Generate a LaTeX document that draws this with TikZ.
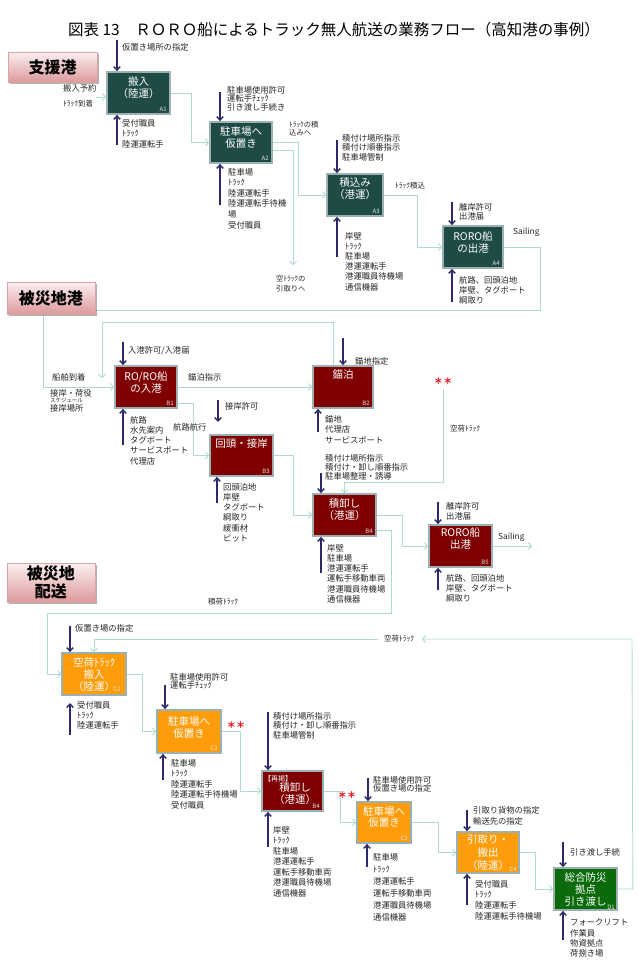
\documentclass[tikz,border=0pt]{standalone}
\usepackage{fontspec}
\setmainfont{Noto Sans CJK JP}
\usetikzlibrary{arrows.meta,calc,shadows}
\definecolor{tealbox}{HTML}{1F4B46}
\definecolor{redbox}{HTML}{7E0000}
\definecolor{orangebox}{HTML}{FF9C0A}
\definecolor{greenbox}{HTML}{0B6A0B}
\definecolor{boxrim}{HTML}{9DB0B2}
\definecolor{flowc}{HTML}{ADDAD5}
\definecolor{ctrlc}{HTML}{2C2A6A}
\definecolor{pinktop}{HTML}{FCEFF0}
\definecolor{pinkbot}{HTML}{DC9A9C}
\definecolor{pinkrim}{HTML}{D8A4A6}
\definecolor{starred}{HTML}{E8101A}
\pgfdeclarelayer{paper}
\pgfdeclarelayer{lines}
\pgfsetlayers{paper,lines,main}
\tikzset{
  proc/.style={draw=boxrim, line width=1.8pt, inner sep=0pt},
  lbox/.style={draw=pinkrim, line width=0.8pt, top color=pinktop, bottom color=pinkbot,
    drop shadow={shadow xshift=2pt, shadow yshift=-2pt, fill=black, opacity=0.3},
    font=\fontsize{16}{18}\selectfont\bfseries, align=center, inner sep=0pt},
  flow/.style={draw=flowc, line width=0.9pt, -{Straight Barb[length=3pt,width=7pt]}},
  ctrl/.style={draw=ctrlc, line width=1.4pt, -{Straight Barb[length=3.5pt,width=6.5pt]}},
  lb/.style={anchor=north west, align=left, inner sep=0pt, text=black!85},
  btxt/.style={anchor=north, align=center, inner sep=0pt, text=white},
  tag/.style={font=\fontsize{6}{6}\selectfont, text=white!80!gray, inner sep=0pt},
  star/.style={font=\fontsize{9}{10}\selectfont\bfseries, text=starred, inner sep=0pt},
}
\newcommand{\mynote}[6]{\node[lb, font=\fontsize{#4}{#5}\selectfont] (#1) at (#2,{#3-0.5*#4}) {#6};}
\newcommand{\btx}[5]{\node[btxt, font=\fontsize{10.5}{#4}\selectfont] (#1) at (#2,{#3-5.2}) {#5};}
\newcommand{\ctl}[4]{\coordinate (#1) at (#2,#3); \draw[ctrl] (#1) -- (#1 |- #4);}
\begin{document}
\begin{tikzpicture}[x=1pt,y=-1pt]
\begin{pgfonlayer}{paper}
\fill[white] (0,0) rectangle (639,961);
\end{pgfonlayer}
\useasboundingbox (0,0) rectangle (639,961);

% title
\node[font=\fontsize{15.5}{18}\selectfont, inner sep=0pt] (title) at (334,30) {図表 13　ＲＯＲＯ船によるトラック無人航送の業務フロー（高知港の事例）};

% process boxes
\node[proc, fill=tealbox, minimum width=63pt, minimum height=42pt] (A1) at (138.5,93) {};
\node[proc, fill=tealbox, minimum width=62pt, minimum height=41pt] (A2) at (241,142.5) {};
\node[proc, fill=tealbox, minimum width=56pt, minimum height=42pt] (A3) at (355,195) {};
\node[proc, fill=tealbox, minimum width=60pt, minimum height=42pt] (A4) at (473,247) {};
\node[proc, fill=redbox, minimum width=62pt, minimum height=42pt] (B1) at (146,387) {};
\node[proc, fill=redbox, minimum width=60pt, minimum height=42pt] (B2) at (343,387) {};
\node[proc, fill=redbox, minimum width=63pt, minimum height=41pt] (B3) at (241.5,455.5) {};
\node[proc, fill=redbox, minimum width=63pt, minimum height=42pt] (B4) at (344.5,515) {};
\node[proc, fill=redbox, minimum width=63pt, minimum height=42pt] (B5) at (460.5,546) {};
\node[proc, fill=orangebox, minimum width=64pt, minimum height=42pt] (C1) at (94,674) {};
\node[proc, fill=orangebox, minimum width=64pt, minimum height=43pt] (C2) at (189,731.5) {};
\node[proc, fill=redbox, minimum width=61pt, minimum height=40pt] (B4r) at (292.5,791) {};
\node[proc, fill=orangebox, minimum width=54pt, minimum height=41pt] (C3) at (384,822.5) {};
\node[proc, fill=orangebox, minimum width=62pt, minimum height=41pt] (C4) at (488,852.5) {};
\node[proc, fill=greenbox, minimum width=63pt, minimum height=42pt] (D1) at (585.5,889) {};

% box texts
\btx{A1t}{138.5}{82}{12}{搬入\\（陸運）}
\btx{A2t}{241}{132}{11.5}{駐車場へ\\仮置き}
\btx{A3t}{355}{183}{12}{積込み\\（港運）}
\btx{A4t}{473}{237}{11.5}{RORO船\\の出港}
\btx{B1t}{146}{377}{11.5}{RO/RO船\\の入港}
\btx{B2t}{343}{375}{12}{錨泊}
\btx{B3t}{241.5}{444}{12}{回頭・接岸}
\btx{B4t}{344.5}{504}{12}{積卸し\\（港運）}
\btx{B5t}{460.5}{533}{12}{RORO船\\出港}
\btx{C1t}{94}{663}{12}{空荷ﾄﾗｯｸ\\搬入\\（陸運）}
\btx{C2t}{189}{722}{11.5}{駐車場へ\\仮置き}
\btx{BRt}{295}{788}{12}{積卸し\\（港運）}
\node[anchor=west, inner sep=0pt, text=white, font=\fontsize{7}{8}\selectfont] (BRh) at (264,779) {【再掲】};
\btx{C3t}{384}{812}{11}{駐車場へ\\仮置き}
\btx{C4t}{488}{840}{13}{引取り・\\搬出\\（陸運）}
\btx{D1t}{585.5}{878}{12}{総合防災\\拠点\\引き渡し}

% box tags
\node[tag, anchor=south east] (A1n) at ($(A1.south east)+(-4,-3)$) {A1};
\node[tag, anchor=south east] (A2n) at ($(A2.south east)+(-4,-3)$) {A2};
\node[tag, anchor=south east] (A3n) at ($(A3.south east)+(-4,-3)$) {A3};
\node[tag, anchor=south east] (A4n) at ($(A4.south east)+(-4,-3)$) {A4};
\node[tag, anchor=south east] (B1n) at ($(B1.south east)+(-4,-3)$) {B1};
\node[tag, anchor=south east] (B2n) at ($(B2.south east)+(-4,-3)$) {B2};
\node[tag, anchor=south east] (B3n) at ($(B3.south east)+(-4,-3)$) {B3};
\node[tag, anchor=south east] (B4n) at ($(B4.south east)+(-4,-3)$) {B4};
\node[tag, anchor=south east] (B5n) at ($(B5.south east)+(-4,-3)$) {B5};
\node[tag] (C1n) at (117,689) {C1};
\node[tag, anchor=south east] (C2n) at ($(C2.south east)+(-4,-3)$) {C2};
\node[tag, anchor=south east] (B4rn) at ($(B4r.south east)+(-4,-3)$) {B4};
\node[tag, anchor=south east] (C3n) at ($(C3.south east)+(-4,-3)$) {C3};
\node[tag] (C4n) at (513,869) {C4};
\node[tag] (D1n) at (611,907) {D1};

% section label boxes
\node[lbox, minimum width=89pt, minimum height=30pt] (S1) at (52.5,67) {支援港};
\node[lbox, minimum width=88pt, minimum height=32pt] (S2) at (51,298) {被災地港};
\node[lbox, minimum width=88pt, minimum height=39pt] (S3) at (51,582.5) {被災地\\配送};

% flow connectors
\begin{pgfonlayer}{lines}
\coordinate (a1in) at (96,97);
\draw[flow] (a1in) -- (a1in -| A1.west);
\draw[flow] (A1.east) -- ++(21,0) |- (A2.west);
\draw[flow] (A2.east) -- ++(26,0) |- (A3.west);
\coordinate (a2out) at (293,265);
\draw[flow] ($(A2.east)+(0,8)$) -| (a2out);
\draw[flow] (A3.east) -- ++(34,0) |- (A4.west);
\draw[flow] (A4.east) -- ++(37,0) -- ++(0,63) -- (43,310) |- (B1.west);
\coordinate (b2back) at (102,378);
\draw[flow] ($(B2.north)+(-10,0)$) |- (102,322) -- (b2back);
\draw[flow] (B1.east) -- (B2.west);
\draw[flow] ($(B1.east)+(0,16)$) -- ++(16,0) |- (B3.west);
\draw[flow] (B3.east) -- ++(20,0) |- (B4.west);
\coordinate (emp) at (443,389);
\draw[flow] (emp) -- (443,482) -| (B4.north);
\draw[flow] (B4.east) -- ++(26,0) |- (B5.west);
\coordinate (sail) at (532,546);
\draw[flow] (B5.east) -- (sail);
\draw[flow] ($(B4.east)+(0,15)$) -- ++(15,0) -- ++(0,83) -- (47,613) |- (C1.west);
\coordinate (emparr) at (422,639);
\draw[flow] (D1.east) -- ++(15,0) -- (632,639) -- (emparr);
\coordinate (empret) at (378,639);
\draw[flow] (empret) -| (C1.north);
\draw[flow] (C1.east) -- ++(16,0) |- (C2.west);
\draw[flow] (C2.east) -- ++(19,0) |- (B4r.west);
\draw[flow] (B4r.east) -- ++(17,0) |- (C3.west);
\draw[flow] (C3.east) -- ++(27,0) |- (C4.west);
\draw[flow] (C4.east) -- ++(16,0) |- (D1.west);
\end{pgfonlayer}

% control / mechanism arrows
\ctl{cA1a}{117}{40}{A1.north}
\ctl{cA1b}{117}{145}{A1.south}
\ctl{cA2a}{220}{92}{A2.north}
\ctl{cA2b}{220}{205}{A2.south}
\ctl{cA3a}{337}{140}{A3.north}
\ctl{cA3b}{337}{257}{A3.south}
\ctl{cA4a}{452}{202}{A4.north}
\ctl{cA4b}{452}{302}{A4.south}
\ctl{cB1a}{123}{342}{B1.north}
\ctl{cB1b}{123}{445}{B1.south}
\ctl{cB2a}{343}{338}{B2.north}
\ctl{cB2b}{318}{432}{B2.south}
\coordinate (cB3a) at (218,400);
\coordinate (cB3e) at (218,422);
\draw[ctrl] (cB3a) -- (cB3e);
\ctl{cB3b}{217}{503}{B3.south}
\ctl{cB4a}{321}{473}{B4.north}
\ctl{cB4b}{321}{573}{B4.south}
\ctl{cB5a}{438}{502}{B5.north}
\ctl{cB5b}{438}{590}{B5.south}
\ctl{cC1a}{70}{626}{C1.north}
\coordinate (cC1b) at (70,735);
\coordinate (cC1e) at (70,703);
\draw[ctrl] (cC1b) -- (cC1e);
\ctl{cC2a}{165}{685}{C2.north}
\ctl{cC2b}{163}{780}{C2.south}
\ctl{cBRa}{268}{712}{B4r.north}
\ctl{cBRb}{268}{847}{B4r.south}
\ctl{cC3a}{368}{778}{C3.north}
\ctl{cC3b}{367}{867}{C3.south}
\ctl{cC4a}{467}{810}{C4.north}
\ctl{cC4b}{467}{905}{C4.south}
\ctl{cD1a}{563}{842}{D1.north}
\ctl{cD1b}{563}{940}{D1.south}

% notes: section A
\mynote{tA1a}{122}{47}{8.3}{10}{仮置き場所の指定}
\mynote{tA1l1}{63}{88}{8.3}{10}{搬入予約}
\mynote{tA1l2}{63}{104}{7.5}{10}{ﾄﾗｯｸ到着}
\mynote{tA1b}{122}{123}{8.3}{10.6}{受付職員\\ﾄﾗｯｸ\\陸運運転手}
\mynote{tA2a}{227}{90}{8.3}{8.7}{駐車場使用許可\\運転手ﾁｪｯｸ\\引き渡し手続き}
\mynote{tA2b}{228}{172}{8.3}{10.6}{駐車場\\ﾄﾗｯｸ\\陸運運転手\\陸運運転手待機\\場\\受付職員}
\mynote{tA2r}{289}{125}{7.3}{8}{ﾄﾗｯｸの積\\込みへ}
\mynote{tA2e}{276}{279}{7.3}{10}{空ﾄﾗｯｸの\\引取りへ}
\mynote{tA3a}{342}{138}{8.3}{9.5}{積付け場所指示\\積付け順番指示\\駐車場管制}
\mynote{tA3r}{395}{186}{7.5}{10}{ﾄﾗｯｸ積込}
\mynote{tA3b}{345}{236}{8.3}{10.2}{岸壁\\ﾄﾗｯｸ\\駐車場\\港運運転手\\港運職員待機場\\通信機器}
\mynote{tA4a}{459}{207}{8.3}{9.5}{離岸許可\\出港届}
\mynote{tA4r}{513}{232}{8.3}{10}{Sailing}
\mynote{tA4b}{459}{280}{8.3}{10.3}{航路、回頭泊地\\岸壁、タグボート\\綱取り}

% notes: section B
\mynote{tB0a}{52}{377}{8.3}{10}{船舶到着}
\mynote{tB0b}{50}{393}{8.3}{10}{接岸・荷役}
\mynote{tB0c}{50}{401}{5.5}{6}{スケジュール}
\mynote{tB0d}{50}{408}{8.3}{10}{接岸場所}
\mynote{tB1a}{128}{350}{8.3}{10}{入港許可/入港届}
\mynote{tB1b}{130}{420}{8.3}{10.3}{航路\\水先案内\\タグボート\\サービスポート\\代理店}
\mynote{tB1r}{188}{377}{8.3}{10}{錨泊指示}
\mynote{tB2a}{355}{361}{8.3}{10}{錨地指定}
\mynote{tB2b}{325}{419}{8.3}{10.5}{錨地\\代理店\\サービスポート}
\mynote{tB3l}{173}{427}{8.3}{10}{航路航行}
\mynote{tB3a}{225}{406}{8.3}{10}{接岸許可}
\mynote{tB3b}{223}{487}{8.3}{10.3}{回頭泊地\\岸壁\\タグボート\\綱取り\\緩衝材\\ビット}
\node[star] (st1) at (443,381) {＊\hspace{0.5pt}＊};
\mynote{tB4e}{450}{429}{7.5}{9}{空荷ﾄﾗｯｸ}
\mynote{tB4a}{325}{458}{8.3}{9.3}{積付け場所指示\\積付け・卸し順番指示\\駐車場整理・誘導}
\mynote{tB4b}{327}{548}{8.3}{10.3}{岸壁\\駐車場\\港運運転手\\運転手移動車両\\港運職員待機場\\通信機器}
\mynote{tB5a}{446}{506}{8.3}{10}{離岸許可\\出港届}
\mynote{tB5b}{446}{578}{8.3}{10}{航路、回頭泊地\\岸壁、タグボート\\綱取り}
\mynote{tB5r}{498}{537}{8.3}{10}{Sailing}
\mynote{tB4t}{208}{602}{7.5}{9}{積荷ﾄﾗｯｸ}

% notes: section C/D
\mynote{tC1a}{75}{628}{8.3}{10}{仮置き場の指定}
\mynote{tC1b}{77}{705}{8.3}{10.4}{受付職員\\ﾄﾗｯｸ\\陸運運転手}
\mynote{tC2a}{170}{677}{8.3}{8}{駐車場使用許可\\運転手ﾁｪｯｸ}
\node[star] (st2) at (236,725) {＊\hspace{0.5pt}＊};
\mynote{tC2b}{171}{763}{8.3}{10.6}{駐車場\\ﾄﾗｯｸ\\陸運運転手\\陸運運転手待機場\\受付職員}
\mynote{tBRa}{273}{716}{8.3}{9.7}{積付け場所指示\\積付け・卸し順番指示\\駐車場管制}
\mynote{tBRb}{273}{830}{8.3}{10.5}{岸壁\\ﾄﾗｯｸ\\駐車場\\港運運転手\\運転手移動車両\\港運職員待機場\\通信機器}
\node[star] (st3) at (347,795) {＊\hspace{0.5pt}＊};
\mynote{tC3a}{373}{780}{8.3}{8}{駐車場使用許可\\仮置き場の指定}
\mynote{tC3b}{373}{857}{8.3}{12.1}{駐車場\\ﾄﾗｯｸ\\港運運転手\\運転手移動車両\\港運職員待機場\\通信機器}
\mynote{tC4a}{473}{810}{8.3}{11}{引取り貨物の指定\\輸送先の指定}
\mynote{tC4b}{475}{884}{8.3}{10.7}{受付職員\\ﾄﾗｯｸ\\陸運運転手\\陸運運転手待機場}
\mynote{tD0}{384}{639}{7.5}{9}{空荷ﾄﾗｯｸ}
\mynote{tD1a}{570}{852}{8.3}{10}{引き渡し手続}
\mynote{tD1b}{570}{923}{8.3}{10.4}{フォークリフト\\作業員\\物資拠点\\荷捌き場}
\end{tikzpicture}
\end{document}
